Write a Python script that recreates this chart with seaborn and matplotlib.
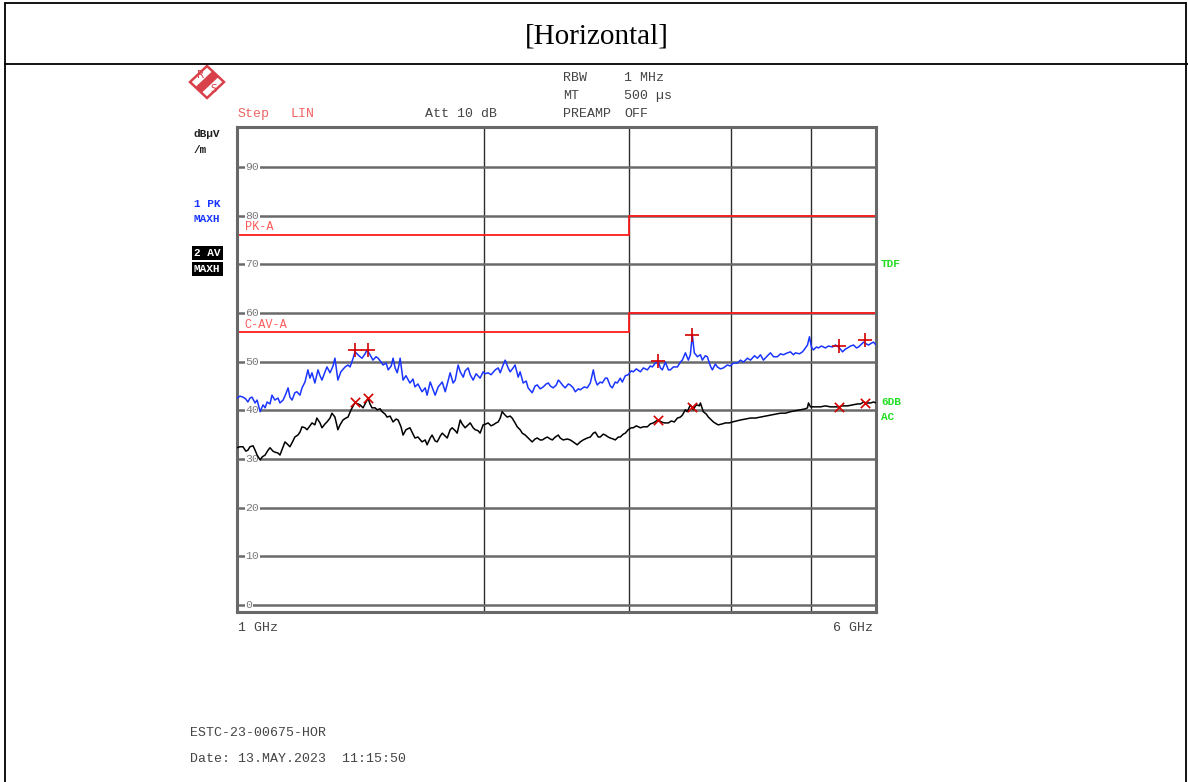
import matplotlib
matplotlib.use("Agg")
import matplotlib.pyplot as plt
import pandas as pd
import seaborn as sns
from matplotlib.lines import Line2D
from matplotlib.patches import Polygon
from matplotlib.ticker import NullLocator

# ---- Trace 1: peak detector, max hold (GHz, dBuV/m) ----
pk_freq = [
    1.000, 1.008, 1.017, 1.025, 1.031, 1.037, 1.043, 1.049, 1.052, 1.058,
    1.067, 1.073, 1.076, 1.082, 1.088, 1.097, 1.103, 1.112, 1.122, 1.128,
    1.138, 1.147, 1.154, 1.160, 1.167, 1.176, 1.183, 1.193, 1.200, 1.210,
    1.220, 1.227, 1.234, 1.244, 1.255, 1.262, 1.269, 1.280, 1.287, 1.298,
    1.309, 1.316, 1.327, 1.338, 1.354, 1.365, 1.373, 1.385, 1.392, 1.404,
    1.412, 1.420, 1.432, 1.440, 1.452, 1.464, 1.477, 1.485, 1.498, 1.506,
    1.519, 1.528, 1.541, 1.549, 1.558, 1.567, 1.575, 1.580, 1.593, 1.606,
    1.624, 1.638, 1.647, 1.661, 1.680, 1.695, 1.704, 1.719, 1.733, 1.743,
    1.758, 1.778, 1.793, 1.808, 1.818, 1.833, 1.844, 1.859, 1.870, 1.886,
    1.896, 1.912, 1.923, 1.939, 1.955, 1.977, 1.994, 2.005, 2.022, 2.039,
    2.063, 2.080, 2.092, 2.109, 2.121, 2.139, 2.151, 2.169, 2.181, 2.200,
    2.212, 2.231, 2.250, 2.262, 2.288, 2.307, 2.321, 2.340, 2.360, 2.380,
    2.394, 2.407, 2.427, 2.448, 2.462, 2.475, 2.496, 2.510, 2.532, 2.546,
    2.567, 2.582, 2.604, 2.618, 2.648, 2.670, 2.693, 2.716, 2.731, 2.746,
    2.769, 2.785, 2.809, 2.824, 2.848, 2.864, 2.888, 2.905, 2.929, 2.946,
    2.971, 2.995, 3.021, 3.038, 3.064, 3.099, 3.125, 3.160, 3.187, 3.205,
    3.232, 3.259, 3.278, 3.296, 3.324, 3.352, 3.371, 3.399, 3.438, 3.467,
    3.486, 3.516, 3.545, 3.565, 3.585, 3.605, 3.636, 3.667, 3.687, 3.718,
    3.739, 3.771, 3.792, 3.824, 3.846, 3.878, 3.911, 3.955, 3.988, 4.022,
    4.069, 4.103, 4.138, 4.184, 4.220, 4.267, 4.303, 4.340, 4.376, 4.426,
    4.463, 4.501, 4.551, 4.590, 4.628, 4.681, 4.720, 4.760, 4.787, 4.841,
    4.882, 4.923, 4.951, 4.979, 5.006, 5.034, 5.077, 5.105, 5.149, 5.207,
    5.251, 5.310, 5.356, 5.402, 5.463, 5.509, 5.540, 5.587, 5.634, 5.681,
    5.713, 5.762, 5.794, 5.843, 5.876, 5.925, 5.959, 6.000,
]
pk_level = [
    42.5, 42.9, 42.7, 42.3, 41.7, 42.5, 42.7, 41.9, 41.5, 42.1,
    39.7, 40.7, 41.1, 40.5, 41.7, 41.3, 43.1, 42.1, 42.5, 41.5,
    42.1, 43.4, 44.6, 42.7, 42.1, 43.6, 43.8, 43.1, 44.6, 45.8,
    48.3, 46.6, 47.7, 45.6, 48.3, 47.1, 46.2, 47.9, 48.9, 47.7,
    49.1, 50.7, 46.2, 47.9, 48.9, 49.3, 48.9, 50.7, 52.0, 51.4,
    51.0, 50.7, 51.6, 52.4, 51.4, 50.3, 51.0, 50.7, 49.9, 49.3,
    49.7, 48.3, 49.1, 50.7, 48.7, 47.7, 49.3, 50.7, 46.2, 47.1,
    45.6, 46.4, 44.8, 45.4, 43.8, 44.6, 43.1, 45.8, 44.2, 43.1,
    44.8, 45.8, 43.8, 46.2, 47.7, 45.6, 46.2, 49.3, 47.9, 46.8,
    48.1, 48.7, 47.3, 46.2, 47.5, 46.6, 47.9, 47.5, 47.7, 47.3,
    48.3, 48.7, 47.7, 49.3, 50.3, 48.7, 47.9, 48.7, 49.3, 46.8,
    47.9, 45.6, 46.0, 44.6, 43.6, 45.0, 45.2, 44.4, 44.8, 45.4,
    45.6, 45.0, 44.6, 45.2, 46.2, 45.8, 45.0, 44.6, 45.4, 45.2,
    44.6, 43.8, 44.4, 44.2, 44.8, 44.6, 45.6, 48.3, 46.2, 45.2,
    45.8, 45.6, 46.6, 46.6, 45.0, 44.6, 45.8, 45.6, 46.6, 45.8,
    47.1, 47.3, 48.1, 47.9, 48.5, 47.9, 48.7, 48.3, 49.1, 48.9,
    49.7, 49.9, 48.7, 48.3, 49.9, 48.3, 48.3, 48.9, 48.9, 49.9,
    50.3, 51.8, 50.3, 51.4, 55.5, 51.8, 51.0, 51.4, 50.3, 51.2,
    51.0, 49.1, 48.3, 49.5, 48.9, 48.5, 48.7, 49.3, 49.1, 49.7,
    49.7, 50.3, 49.9, 50.7, 50.3, 51.2, 50.7, 51.4, 50.3, 51.2,
    51.8, 51.0, 51.0, 51.6, 51.4, 51.8, 52.0, 51.4, 51.8, 51.6,
    52.0, 52.8, 53.4, 55.1, 53.0, 52.4, 53.0, 52.8, 53.2, 52.8,
    53.2, 53.0, 53.4, 53.0, 52.0, 52.6, 52.8, 53.2, 53.4, 52.8,
    53.0, 53.6, 54.0, 53.6, 53.4, 53.8, 54.0, 53.4,
]

# ---- Trace 2: average detector, max hold (GHz, dBuV/m) ----
av_freq = [
    1.000, 1.008, 1.017, 1.025, 1.031, 1.037, 1.046, 1.052, 1.058, 1.067,
    1.073, 1.082, 1.091, 1.097, 1.106, 1.112, 1.122, 1.128, 1.138, 1.144,
    1.154, 1.160, 1.170, 1.176, 1.186, 1.193, 1.200, 1.210, 1.217, 1.227,
    1.234, 1.244, 1.251, 1.262, 1.269, 1.280, 1.287, 1.298, 1.305, 1.316,
    1.327, 1.335, 1.346, 1.357, 1.365, 1.377, 1.385, 1.392, 1.404, 1.412,
    1.424, 1.436, 1.444, 1.452, 1.460, 1.473, 1.481, 1.494, 1.502, 1.515,
    1.523, 1.536, 1.549, 1.562, 1.571, 1.584, 1.593, 1.606, 1.624, 1.638,
    1.647, 1.661, 1.680, 1.695, 1.704, 1.719, 1.728, 1.743, 1.753, 1.768,
    1.778, 1.793, 1.803, 1.818, 1.828, 1.844, 1.854, 1.870, 1.880, 1.896,
    1.912, 1.923, 1.939, 1.950, 1.966, 1.977, 1.994, 2.011, 2.022, 2.039,
    2.051, 2.068, 2.080, 2.092, 2.103, 2.121, 2.133, 2.151, 2.163, 2.181,
    2.194, 2.212, 2.225, 2.244, 2.256, 2.275, 2.288, 2.307, 2.321, 2.340,
    2.354, 2.374, 2.387, 2.407, 2.421, 2.441, 2.462, 2.475, 2.496, 2.525,
    2.546, 2.567, 2.596, 2.618, 2.640, 2.670, 2.693, 2.716, 2.731, 2.754,
    2.769, 2.793, 2.809, 2.832, 2.848, 2.872, 2.888, 2.913, 2.929, 2.954,
    2.971, 2.995, 3.021, 3.038, 3.064, 3.099, 3.125, 3.160, 3.187, 3.214,
    3.241, 3.259, 3.287, 3.315, 3.352, 3.380, 3.408, 3.438, 3.467, 3.486,
    3.516, 3.535, 3.565, 3.595, 3.616, 3.636, 3.656, 3.667, 3.697, 3.729,
    3.750, 3.782, 3.803, 3.835, 3.856, 3.900, 3.933, 3.977, 4.011, 4.057,
    4.103, 4.161, 4.220, 4.279, 4.340, 4.401, 4.463, 4.526, 4.590, 4.655,
    4.720, 4.787, 4.855, 4.923, 4.951, 4.965, 4.993, 5.063, 5.134, 5.207,
    5.280, 5.356, 5.402, 5.463, 5.540, 5.618, 5.697, 5.746, 5.794, 5.843,
    5.909, 5.959, 6.000,
]
av_level = [
    32.3, 32.5, 32.5, 31.6, 31.8, 32.5, 32.7, 31.8, 30.8, 29.8,
    30.4, 30.8, 31.8, 32.3, 31.6, 31.4, 31.2, 30.8, 32.5, 33.5,
    32.9, 32.5, 33.7, 34.5, 34.9, 35.5, 36.6, 36.4, 36.0, 36.8,
    37.4, 37.0, 38.4, 37.4, 36.4, 37.2, 37.6, 38.4, 39.4, 38.6,
    36.0, 37.0, 38.0, 38.4, 38.6, 40.1, 40.9, 41.5, 41.3, 41.1,
    40.5, 41.7, 42.5, 41.3, 40.5, 40.5, 40.1, 40.3, 39.7, 39.2,
    38.6, 38.8, 37.6, 38.2, 38.0, 36.6, 34.9, 36.0, 36.4, 35.1,
    34.3, 34.5, 33.5, 33.9, 32.9, 34.3, 34.9, 33.7, 33.5, 34.7,
    35.3, 34.7, 34.3, 36.0, 36.4, 35.8, 35.3, 38.0, 37.2, 36.4,
    37.0, 37.4, 36.4, 36.0, 35.8, 35.3, 37.0, 37.2, 37.4, 36.8,
    37.0, 37.4, 37.6, 38.4, 39.7, 39.0, 38.6, 38.8, 38.4, 37.4,
    36.6, 36.0, 35.3, 34.9, 34.5, 33.9, 33.5, 34.1, 34.3, 33.9,
    33.9, 34.3, 34.5, 34.1, 33.9, 34.5, 34.9, 34.3, 33.9, 34.1,
    33.9, 33.5, 32.9, 33.5, 33.9, 34.3, 34.5, 35.3, 35.5, 34.5,
    34.5, 35.1, 34.9, 34.5, 34.3, 34.1, 33.9, 34.5, 34.5, 35.1,
    35.3, 36.0, 36.4, 36.4, 36.8, 36.4, 36.6, 36.6, 37.2, 37.4,
    37.8, 38.0, 37.6, 37.4, 37.4, 37.8, 37.6, 38.4, 38.6, 39.0,
    40.1, 39.7, 41.1, 40.1, 40.9, 41.1, 40.9, 41.5, 39.7, 39.2,
    38.6, 38.0, 37.6, 37.2, 37.0, 37.2, 37.4, 37.4, 37.6, 37.8,
    38.0, 38.2, 38.4, 38.4, 38.6, 38.8, 39.0, 39.2, 39.4, 39.4,
    39.7, 39.9, 40.1, 40.3, 40.5, 41.5, 40.7, 40.7, 40.7, 40.9,
    40.7, 40.7, 40.7, 40.9, 40.9, 41.1, 41.3, 41.3, 41.7, 41.5,
    41.5, 41.7, 41.5,
]

# ---- Peak-search markers ----
marker_freq = [1.392, 1.444, 3.259, 3.585, 5.402, 5.810]
pk_marker_level = [52.4, 52.4, 50.1, 55.5, 53.2, 54.4]
av_marker_level = [41.7, 42.5, 38.0, 40.7, 40.7, 41.5]

# ---- Limit lines (step at 3 GHz) ----
limit_freq = [1.0, 3.0, 3.0, 6.0]
pk_limit = [76, 76, 80, 80]
av_limit = [56, 56, 60, 60]

y_ticks = [0, 10, 20, 30, 40, 50, 60, 70, 80, 90]
x_grid = [2, 3, 4, 5]

pk_df = pd.DataFrame({"freq": pk_freq, "level": pk_level})
av_df = pd.DataFrame({"freq": av_freq, "level": av_level})

sns.set_theme(style="white")
plt.rcParams["font.family"] = ["Liberation Mono", "DejaVu Sans Mono"]

W, H = 1188, 782
fig = plt.figure(figsize=(W / 100, H / 100), dpi=100)


def fx(x):
    return x / W


def fy(y):
    return 1 - y / H


ax = fig.add_axes([fx(237), fy(612), fx(876) - fx(237), fy(127) - fy(612)])
ax.set_xscale("log")
ax.set_xlim(1, 6)
ax.set_ylim(-1.45, 98.2)
ax.set_xticks(x_grid)
ax.xaxis.set_minor_locator(NullLocator())
ax.set_yticks(y_ticks)
ax.tick_params(length=0, labelleft=False, labelbottom=False)
ax.set_axisbelow(True)
ax.yaxis.grid(True, color="#6a6a6a", lw=1.8)
ax.xaxis.grid(True, color="#2e2e2e", lw=1.0)
for s in ax.spines.values():
    s.set_color("#686868")
    s.set_linewidth(2.2)

# level labels inside the diagram, breaking the grid lines
for v in y_ticks:
    ax.text(0.013, v, str(v), transform=ax.get_yaxis_transform(),
            ha="left", va="center", fontsize=8.2, color="#7a7a7a",
            family="Liberation Mono", zorder=2,
            bbox=dict(facecolor="white", edgecolor="none", pad=0.3))

# limit lines
sns.lineplot(x=limit_freq, y=pk_limit, ax=ax, color="#ff1a1a", lw=1.3,
             sort=False, estimator=None, zorder=2.5)
sns.lineplot(x=limit_freq, y=av_limit, ax=ax, color="#ff1a1a", lw=1.3,
             sort=False, estimator=None, zorder=2.5)
ax.text(0.012, 77.7, "PK-A", transform=ax.get_yaxis_transform(),
        ha="left", va="center", fontsize=8.6, color="#ff5c5c")
ax.text(0.012, 57.6, "C-AV-A", transform=ax.get_yaxis_transform(),
        ha="left", va="center", fontsize=8.6, color="#ff5c5c")

# measured traces
sns.lineplot(data=pk_df, x="freq", y="level", ax=ax, color="#1a35ff",
             lw=1.1, estimator=None, sort=False, zorder=3)
sns.lineplot(data=av_df, x="freq", y="level", ax=ax, color="#000000",
             lw=1.1, estimator=None, sort=False, zorder=3)

# markers
sns.scatterplot(x=marker_freq, y=pk_marker_level, ax=ax, marker="+",
                s=90, color="#d40000", linewidth=1.2, zorder=4)
sns.scatterplot(x=marker_freq, y=av_marker_level, ax=ax, marker="x",
                s=45, color="#d40000", linewidth=1.2, zorder=4)
ax.set_xlabel("")
ax.set_ylabel("")

# frequency span labels
fig.text(fx(238), fy(628), "1 GHz", ha="left", va="center", fontsize=9.5,
         color="#444444")
fig.text(fx(873), fy(628), "6 GHz", ha="right", va="center", fontsize=9.5,
         color="#444444")

# instrument settings header
hdr = dict(fontsize=9.5, color="#444444", va="center", ha="left")
fig.text(fx(563), fy(78), "RBW", **hdr)
fig.text(fx(624), fy(78), "1 MHz", **hdr)
fig.text(fx(563), fy(96), "MT", **hdr)
fig.text(fx(624), fy(96), "500 µs", **hdr)
fig.text(fx(563), fy(114), "PREAMP", **hdr)
fig.text(fx(624), fy(114), "OFF", **hdr)
fig.text(fx(425), fy(114), "Att 10 dB", **hdr)
fig.text(fx(238), fy(114), "Step", fontsize=9.5, color="#f06464",
         va="center", ha="left")
fig.text(fx(290), fy(114), "LIN", fontsize=9.5, color="#f06464",
         va="center", ha="left")

# unit and trace labels on the left
lab = dict(fontsize=8, fontweight="bold", va="center", ha="left")
fig.text(fx(194), fy(134), "dBµV", color="#222222", **lab)
fig.text(fx(194), fy(150), "/m", color="#222222", **lab)
fig.text(fx(194), fy(204), "1 PK", color="#1a35ff", **lab)
fig.text(fx(194), fy(219), "MAXH", color="#1a35ff", **lab)
box = dict(facecolor="black", edgecolor="none", pad=1.6)
fig.text(fx(194), fy(253), "2 AV", color="white", bbox=box, **lab)
fig.text(fx(194), fy(269), "MAXH", color="white", bbox=box, **lab)

# status labels on the right
green = dict(fontsize=8, fontweight="bold", va="center", ha="left",
             color="#22dd22")
fig.text(fx(881), fy(264), "TDF", **green)
fig.text(fx(881), fy(402), "6DB", **green)
fig.text(fx(881), fy(417), "AC", **green)

# footer
fig.text(fx(190), fy(733), "ESTC-23-00675-HOR", fontsize=9.5,
         color="#444444", va="center", ha="left")
fig.text(fx(190), fy(759), "Date: 13.MAY.2023  11:15:50", fontsize=9.5,
         color="#444444", va="center", ha="left")

# page title and frame
fig.text(fx(597), fy(36), "[Horizontal]", family="Liberation Serif",
         fontsize=21, ha="center", va="center", color="black")
for xs, ys in [((5, 5), (3, 782)), ((1186, 1186), (3, 782)),
               ((5, 1186), (3, 3)), ((5, 1188), (64, 64))]:
    fig.add_artist(Line2D([fx(x) for x in xs], [fy(y) for y in ys],
                          transform=fig.transFigure, color="black", lw=1.3))

# manufacturer logo
diamond = [(207, 66), (224, 82), (207, 98), (190, 82)]
fig.add_artist(Polygon([(fx(x), fy(y)) for x, y in diamond], closed=True,
                       transform=fig.transFigure, facecolor="white",
                       edgecolor="#d9414a", lw=1.8))
stripe = [(212.5, 71), (218.5, 77), (201.5, 93), (195.5, 87)]
fig.add_artist(Polygon([(fx(x), fy(y)) for x, y in stripe], closed=True,
                       transform=fig.transFigure, facecolor="#d9414a",
                       edgecolor="none"))
fig.text(fx(201), fy(75.5), "R", family="DejaVu Sans", fontsize=7.5,
         color="#d9414a", ha="center", va="center")
fig.text(fx(213.5), fy(89), "S", family="DejaVu Sans", fontsize=7.5,
         color="#d9414a", ha="center", va="center")

fig.savefig("out.png", dpi=100)
